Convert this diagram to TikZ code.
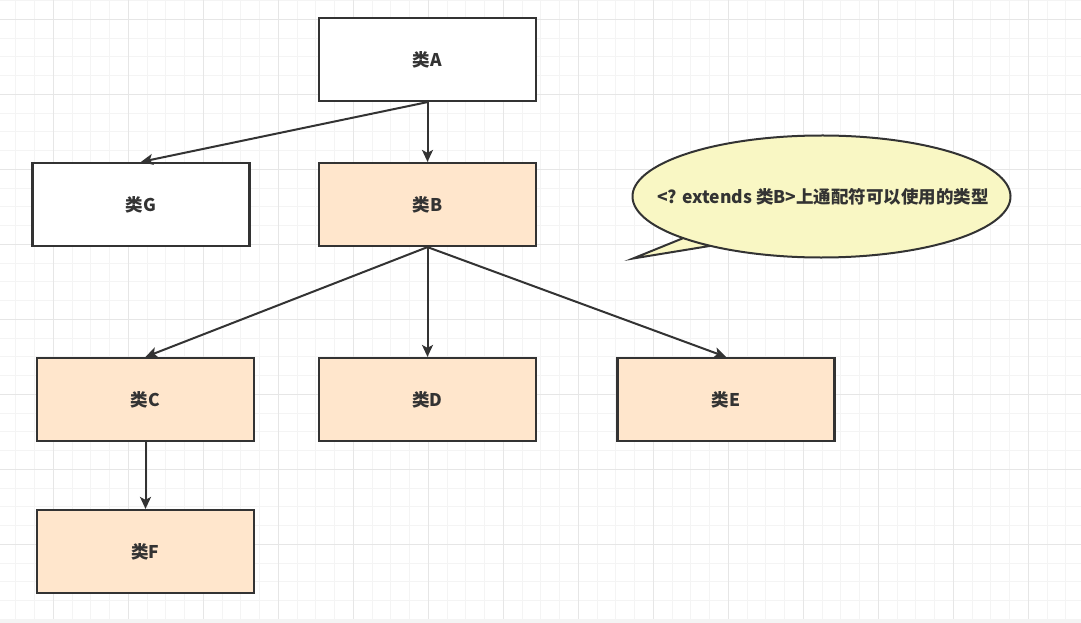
\documentclass[tikz,border=0pt]{standalone}
\usepackage{fontspec}
\setmainfont{Noto Sans CJK SC}
\usetikzlibrary{arrows.meta,shapes}
\definecolor{lineclr}{HTML}{333333}
\definecolor{peach}{HTML}{FFE6CC}
\definecolor{notefill}{HTML}{F9F7C4}
\definecolor{gridmin}{HTML}{F4F4F4}
\definecolor{gridmaj}{HTML}{E6E6E6}

\begin{document}
\begin{tikzpicture}[x=1pt,y=-1pt,
    cls/.style={draw=lineclr,line width=2.2pt,fill=white,minimum width=217pt,
      minimum height=83pt,inner sep=0pt,text=lineclr,
      font=\bfseries\fontsize{17.5}{20}\selectfont},
    sub/.style={cls,fill=peach},
    link/.style={draw=lineclr,line width=2pt,
      -{Stealth[length=12pt,width=11pt,inset=3pt]}},
    callout/.style={draw=lineclr,line width=2pt,fill=notefill}]
    \useasboundingbox (0,0) rectangle (1081,623);
    % background grid
    \fill [white] (0,0) rectangle (1081,623);
    \foreach \i in {0,...,57}
        \draw [gridmin,line width=0.8pt] ({15.8+18.75*\i},0) -- ++(0,619);
    \foreach \i in {0,...,32}
        \draw [gridmin,line width=0.8pt] (0,{0.55+18.75*\i}) -- ++(1081,0);
    \foreach \i in {0,...,13}
        \draw [gridmaj,line width=0.8pt] ({53.3+75*\i},0) -- ++(0,619);
    \foreach \i in {0,...,7}
        \draw [gridmaj,line width=0.8pt] (0,{19.3+75*\i}) -- ++(1081,0);
    \fill [gridmin] (0,619) rectangle (1081,623);
    % classes
    \node [cls] (a) at (427.5,59.5) {类A};
    \node [cls] (g) at (141,204.5) {类G};
    \node [sub] (b) at (427.5,204.5) {类B};
    \node [sub] (c) at (145.5,399.5) {类C};
    \node [sub] (d) at (427.5,399.5) {类D};
    \node [sub] (e) at (726,399.5) {类E};
    \node [sub] (f) at (145.5,551.5) {类F};
    % arrows
    \draw [link] (a.south) -- (g.north);
    \draw [link] (a.south) -- (b.north);
    \draw [link] (b.south) -- (c.north);
    \draw [link] (b.south) -- (d.north);
    \draw [link] (b.south) -- (e.north);
    \draw [link] (c.south) -- (f.north);
    % speech bubble
    \coordinate (cb) at (821.5,196.5);
    \coordinate (tip) at (633,258.5);
    \path (cb) ++(137:189 and 61) coordinate (t1)
          (cb) ++(126:189 and 61) coordinate (t2);
    \draw [callout] (t1) -- (tip) -- (t2)
        arc [start angle=126, end angle=497, x radius=189, y radius=61] -- cycle;
    \node [text=lineclr,font=\bfseries\fontsize{17.5}{20}\selectfont] (note) at (823,197)
        {<? extends 类B>上通配符可以使用的类型};
\end{tikzpicture}
\end{document}
